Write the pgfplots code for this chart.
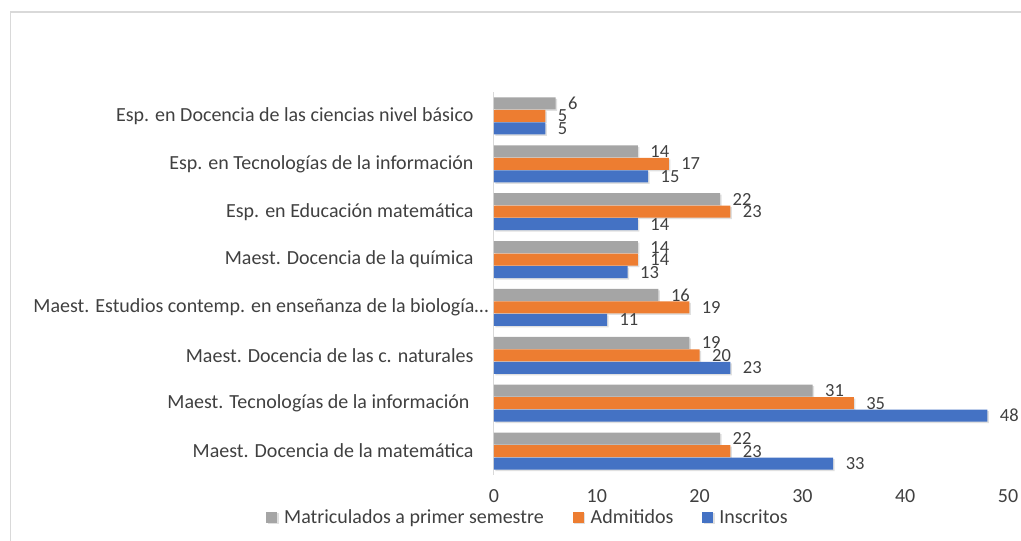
\documentclass[border=0pt]{standalone}
\usepackage{pgfplots}
\pgfplotsset{compat=1.18}
\usepackage{fontspec}
\setmainfont{Carlito}
\definecolor{cgray}{HTML}{A5A5A5}
\definecolor{corange}{HTML}{ED7D31}
\definecolor{cblue}{HTML}{4472C4}
\definecolor{ctext}{HTML}{404040}
\definecolor{cframe}{HTML}{D9D9D9}
\begin{document}
\begin{tikzpicture}
\useasboundingbox (0pt,0pt) rectangle (1021pt,541pt);
\draw[color=cframe, line width=1.5pt] (10.5pt,0pt) -- (10.5pt,529pt) -- (1021pt,529pt);
\begin{axis}[at={(494pt,66pt)}, anchor=south west, scale only axis,
  width=514pt, height=383pt,
  xbar, xmin=0, xmax=50, ymin=-0.5, ymax=7.5,
  bar width=12pt,
  /pgf/number format/assume math mode=true,
  separate axis lines,
  axis x line*=bottom, x axis line style={draw=none},
  axis y line*=left, y axis line style={draw=cframe, line width=1pt, -},
  major tick length=0pt,
  xtick={0,10,20,30,40,50},
  xticklabel style={font=\fontsize{20}{22}\selectfont, text=ctext, yshift=-11pt},
  ytick={0,...,7},
  yticklabels={Maest. Docencia de la matemática,
    Maest. Tecnologías de la información\hspace*{4pt},
    Maest. Docencia de las c. naturales,
    Maest. Estudios contemp. en enseñanza de la biología…\hspace*{-15pt},
    Maest. Docencia de la química,
    Esp. en Educación matemática,
    Esp. en Tecnologías de la información,
    Esp. en Docencia de las ciencias nivel básico},
  yticklabel style={font=\fontsize{20}{22}\selectfont, text=ctext, xshift=-17pt},
  nodes near coords,
  every node near coord/.append style={font=\fontsize{18.5}{20}\selectfont, text=ctext, anchor=west, xshift=9pt},
  legend style={at={(0.066,-0.11)}, anchor=center, draw=none, fill=none,
    legend columns=3, font=\fontsize{20}{22}\selectfont, text=ctext,
    /tikz/every even column/.append style={column sep=27pt}},
  legend image code/.code={\fill[#1] (0pt,-5.5pt) rectangle (11pt,5.5pt);},
  every axis plot/.append style={preaction={fill=black!12, draw=none, transform canvas={xshift=1.5pt,yshift=-1.5pt}}},
]
\addplot[fill=cgray, draw=none, bar shift=12.5pt] coordinates {
 (22,0) (31,1) (19,2) (16,3) (14,4) (22,5) (14,6) (6,7)};
\addplot[fill=corange, draw=none, bar shift=0pt] coordinates {
 (23,0) (35,1) (20,2) (19,3) (14,4) (23,5) (17,6) (5,7)};
\addplot[fill=cblue, draw=none, bar shift=-12.5pt] coordinates {
 (33,0) (48,1) (23,2) (11,3) (13,4) (14,5) (15,6) (5,7)};
\legend{\hspace*{5pt}Matriculados a primer semestre, \hspace*{5pt}Admitidos, \hspace*{4pt}Inscritos}
\end{axis}
\end{tikzpicture}
\end{document}
